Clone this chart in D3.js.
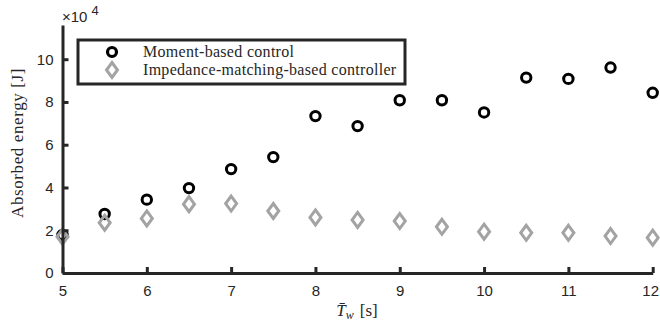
<!DOCTYPE html>
<meta charset="utf-8">
<head>
<style>
  body { margin: 0; background: #fff; }
  svg text { fill: #262626; }
  .tick text { font-family: "Liberation Sans", Arial, sans-serif; font-size: 15px; }
  .serif { font-family: "Liberation Serif", "DejaVu Serif", serif; }
</style>
</head>
<body>
<div id="my_dataviz"></div>
<script src="https://d3js.org/d3.v7.min.js"></script>
<script>

// data (energy in units of 1e4 J)
var periods = [5, 5.5, 6, 6.5, 7, 7.5, 8, 8.5, 9, 9.5, 10, 10.5, 11, 11.5, 12];
var momentBased = [1.78, 2.76, 3.43, 3.97, 4.86, 5.42, 7.34, 6.87, 8.08, 8.08, 7.51, 9.14, 9.08, 9.61, 8.43];
var impedanceBased = [1.70, 2.35, 2.55, 3.22, 3.25, 2.90, 2.60, 2.48, 2.43, 2.16, 1.93, 1.88, 1.88, 1.73, 1.65];
var xTicks = [5, 6, 7, 8, 9, 10, 11, 12];
var yTicks = [0, 2, 4, 6, 8, 10];
var seriesNames = ["Moment-based control", "Impedance-matching-based controller"];

var W = 660, H = 331;
var svg = d3.select("#my_dataviz").append("svg")
    .attr("width", W).attr("height", H);

var x = d3.scaleLinear().domain([5, 12]).range([62.5, 652.7]);
var y = d3.scaleLinear().domain([0, 11.6]).range([273, 25]);

var axisColor = "#262626";
var grey = "#a3a3a3";

// markers
var pts = periods.map(function(p, i) { return {x: p, m: momentBased[i], z: impedanceBased[i]}; });

function diamond(g) {
  g.attr("points", "0,-7.5 5.5,0 0,7.5 -5.5,0");
}

svg.append("g").selectAll("circle")
  .data(pts).enter().append("circle")
    .attr("cx", function(d) { return x(d.x); })
    .attr("cy", function(d) { return y(d.m); })
    .attr("r", 4.7)
    .attr("fill", "none")
    .attr("stroke", "#000")
    .attr("stroke-width", 3);

svg.append("g").selectAll("polygon")
  .data(pts).enter().append("polygon")
    .attr("transform", function(d) { return "translate(" + x(d.x) + "," + y(d.z) + ")"; })
    .call(diamond)
    .attr("fill", "none")
    .attr("stroke", grey)
    .attr("stroke-width", 3);

// axes (drawn on top of markers)
var xAxis = svg.append("g")
  .attr("transform", "translate(0," + y(0) + ")")
  .call(d3.axisBottom(x).tickValues(xTicks).tickFormat(d3.format("d"))
    .tickSizeInner(-6).tickSizeOuter(0).tickPadding(12));
var yAxis = svg.append("g")
  .attr("transform", "translate(" + x(5) + ",0)")
  .call(d3.axisLeft(y).tickValues(yTicks).tickFormat(d3.format("d"))
    .tickSizeInner(-6).tickSizeOuter(0).tickPadding(9));

[xAxis, yAxis].forEach(function(a) {
  a.select(".domain").attr("stroke", axisColor).attr("stroke-width", 3);
  a.selectAll(".tick line").attr("stroke", axisColor).attr("stroke-width", 3);
  a.selectAll(".tick text").attr("fill", axisColor);
});
// last label sits right at the page edge
xAxis.selectAll(".tick text").filter(function(d) { return d === 12; }).attr("dx", -2.5);

// exponent
var expo = svg.append("text")
  .attr("x", 62).attr("y", 22)
  .style("font-family", "Liberation Sans, Arial, sans-serif")
  .style("font-size", "15px");
expo.append("tspan").text("\u00d710");
expo.append("tspan").attr("dx", 4).attr("dy", -7).style("font-size", "13px").text("4");

// axis labels
svg.append("text").attr("class", "serif")
  .attr("transform", "translate(23,143) rotate(-90)")
  .attr("text-anchor", "middle")
  .style("font-size", "17px")
  .style("letter-spacing", "0.6px")
  .text("Absorbed energy [J]");

var xl = svg.append("text").attr("class", "serif")
  .attr("x", 357).attr("y", 316)
  .attr("text-anchor", "middle")
  .style("font-size", "17px");
xl.append("tspan").style("font-style", "italic").text("T\u0304");
xl.append("tspan").style("font-style", "italic").style("font-size", "12px").attr("dy", 3).text("w");
xl.append("tspan").attr("dy", -3).attr("dx", 6).text("[s]");

// legend
var leg = svg.append("g");
leg.append("rect")
  .attr("x", 78).attr("y", 40).attr("width", 327).attr("height", 44)
  .attr("fill", "#fff").attr("stroke", axisColor).attr("stroke-width", 3);
leg.append("circle")
  .attr("cx", 112).attr("cy", 52).attr("r", 4.5)
  .attr("fill", "none").attr("stroke", "#000").attr("stroke-width", 3.2);
leg.append("polygon")
  .attr("transform", "translate(112,70)")
  .call(diamond)
  .attr("fill", "none").attr("stroke", grey).attr("stroke-width", 3);
leg.selectAll("text.lg")
  .data(seriesNames).enter().append("text")
    .attr("class", "serif lg")
    .attr("x", 143)
    .attr("y", function(d, i) { return 57 + i * 18; })
    .style("font-size", "16px")
    .style("letter-spacing", "0.3px")
    .text(function(d) { return d; });

</script>
</body>
